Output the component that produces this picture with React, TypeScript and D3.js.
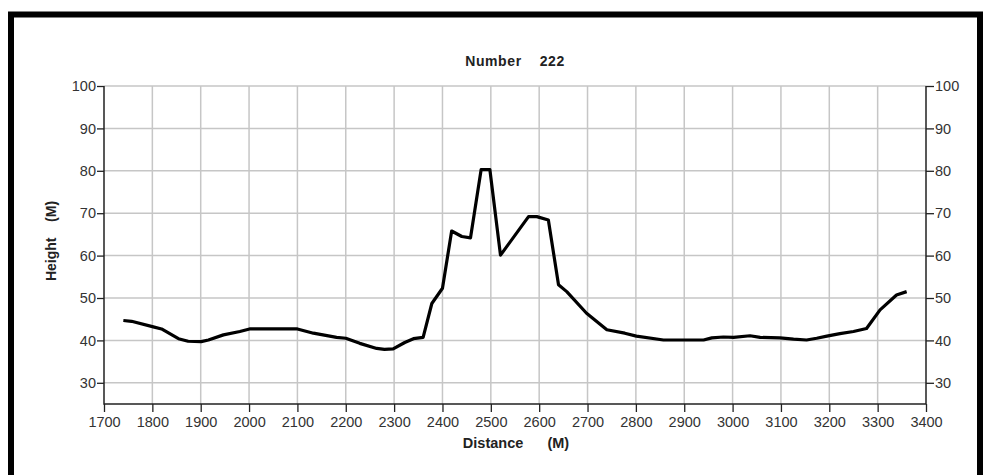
import React, { useRef, useEffect } from 'react';
import * as d3 from 'd3';

// profile samples: distance (M) and height (M)
const distances = [
  1740, 1757, 1802, 1819, 1854, 1874, 1901, 1916, 1947, 1981, 2001, 2100, 2133, 2181, 2200,
  2229, 2264, 2280, 2298, 2322, 2340, 2360, 2378, 2400, 2419, 2440, 2458, 2480, 2498, 2520,
  2578, 2595, 2619, 2640, 2657, 2698, 2740, 2777, 2801, 2857, 2940, 2957, 2981, 3002, 3036,
  3057, 3098, 3126, 3153, 3174, 3195, 3222, 3250, 3277, 3305, 3339, 3360,
];
const heights = [
  44.7, 44.5, 43.2, 42.7, 40.4, 39.8, 39.7, 40.1, 41.3, 42.1, 42.7, 42.7, 41.7, 40.7, 40.5,
  39.3, 38.1, 37.9, 38.0, 39.5, 40.4, 40.7, 48.7, 52.3, 65.8, 64.5, 64.2, 80.3, 80.3, 60.1,
  69.2, 69.2, 68.4, 53.1, 51.5, 46.4, 42.5, 41.7, 41.0, 40.1, 40.1, 40.6, 40.8, 40.7, 41.1,
  40.7, 40.6, 40.3, 40.1, 40.5, 41.0, 41.6, 42.1, 42.8, 47.2, 50.7, 51.5,
];
const xTicks = d3.range(1700, 3401, 100);
const yTicks = [30, 40, 50, 60, 70, 80, 90, 100];

const W = 983;
const H = 475;

const App = () => {
  const ref = useRef<SVGSVGElement>(null);

  useEffect(() => {
    const svg = d3.select(ref.current);
    svg.selectAll('*').remove();

    const left = 104, right = 926, top = 86, bottom = 404;
    const x = d3.scaleLinear().domain([1700, 3400]).range([left, right]);
    const y = d3.scaleLinear().domain([25, 100]).range([bottom, top]);
    const font = 'Liberation Sans, Arial, sans-serif';
    const txt = '#333';

    // frame
    svg.append('path')
      .attr('d', `M11,475 L11,14.5 L980,14.5 L980,475`)
      .attr('fill', 'none')
      .attr('stroke', '#000')
      .attr('stroke-width', 6);

    // grid
    const grid = svg.append('g').attr('stroke', '#c6c6c6').attr('stroke-width', 1.5);
    xTicks.slice(1, -1).forEach(t => {
      grid.append('line').attr('x1', x(t)).attr('x2', x(t)).attr('y1', top).attr('y2', bottom);
    });
    yTicks.forEach(t => {
      grid.append('line').attr('x1', left).attr('x2', right).attr('y1', y(t)).attr('y2', y(t));
    });

    // axes
    const axisY = d3.axisLeft(y).tickValues(yTicks).tickSize(7).tickPadding(1);
    const axisR = d3.axisRight(y).tickValues(yTicks).tickSize(8).tickPadding(1);
    const axisX = d3.axisBottom(x).tickValues(xTicks).tickSize(8).tickPadding(5).tickFormat(d3.format('d'));

    const styleAxis = (g: any) => {
      g.select('.domain').remove();
      g.selectAll('line').attr('stroke', '#222').attr('stroke-width', 1.3);
      g.selectAll('text').attr('fill', txt).attr('font-family', font).attr('font-size', 14.5);
    };

    svg.append('g').attr('transform', `translate(${left},0)`).call(axisY).call(styleAxis);
    svg.append('g').attr('transform', `translate(${right},0)`).call(axisR).call(styleAxis);
    svg.append('g').attr('transform', `translate(0,${bottom})`).call(axisX).call(styleAxis);

    svg.append('path')
      .attr('d', `M${left},${top} L${left},${bottom} L${right},${bottom} L${right},${top}`)
      .attr('fill', 'none')
      .attr('stroke', '#222')
      .attr('stroke-width', 1.5);

    // profile line
    const pts = distances.map((d, i) => [d, heights[i]] as [number, number]);
    const line = d3.line<[number, number]>().x(d => x(d[0])).y(d => y(d[1]));
    svg.append('path')
      .datum(pts)
      .attr('d', line)
      .attr('fill', 'none')
      .attr('stroke', '#000')
      .attr('stroke-width', 3.2)
      .attr('stroke-linejoin', 'round');

    // titles
    svg.append('text')
      .attr('x', (left + right) / 2)
      .attr('y', 65.5)
      .attr('text-anchor', 'middle')
      .attr('font-family', font)
      .attr('font-size', 14)
      .attr('font-weight', 'bold')
      .attr('letter-spacing', 0.6)
      .attr('fill', '#222')
      .style('white-space', 'pre')
      .text('Number    222');

    svg.append('text')
      .attr('x', 516)
      .attr('y', 448)
      .attr('text-anchor', 'middle')
      .attr('font-family', font)
      .attr('font-size', 14.5)
      .attr('font-weight', 'bold')
      .attr('fill', '#222')
      .style('white-space', 'pre')
      .text('Distance      (M)');

    svg.append('text')
      .attr('transform', `translate(56,241) rotate(-90)`)
      .attr('text-anchor', 'middle')
      .attr('font-family', font)
      .attr('font-size', 14)
      .attr('font-weight', 'bold')
      .attr('fill', '#222')
      .style('white-space', 'pre')
      .text('Height    (M)');
  }, []);

  return (
    <svg
      ref={ref}
      width={W}
      height={H}
      style={{ position: 'absolute', left: 0, top: 0, background: '#fff' }}
    />
  );
};

export default App;
